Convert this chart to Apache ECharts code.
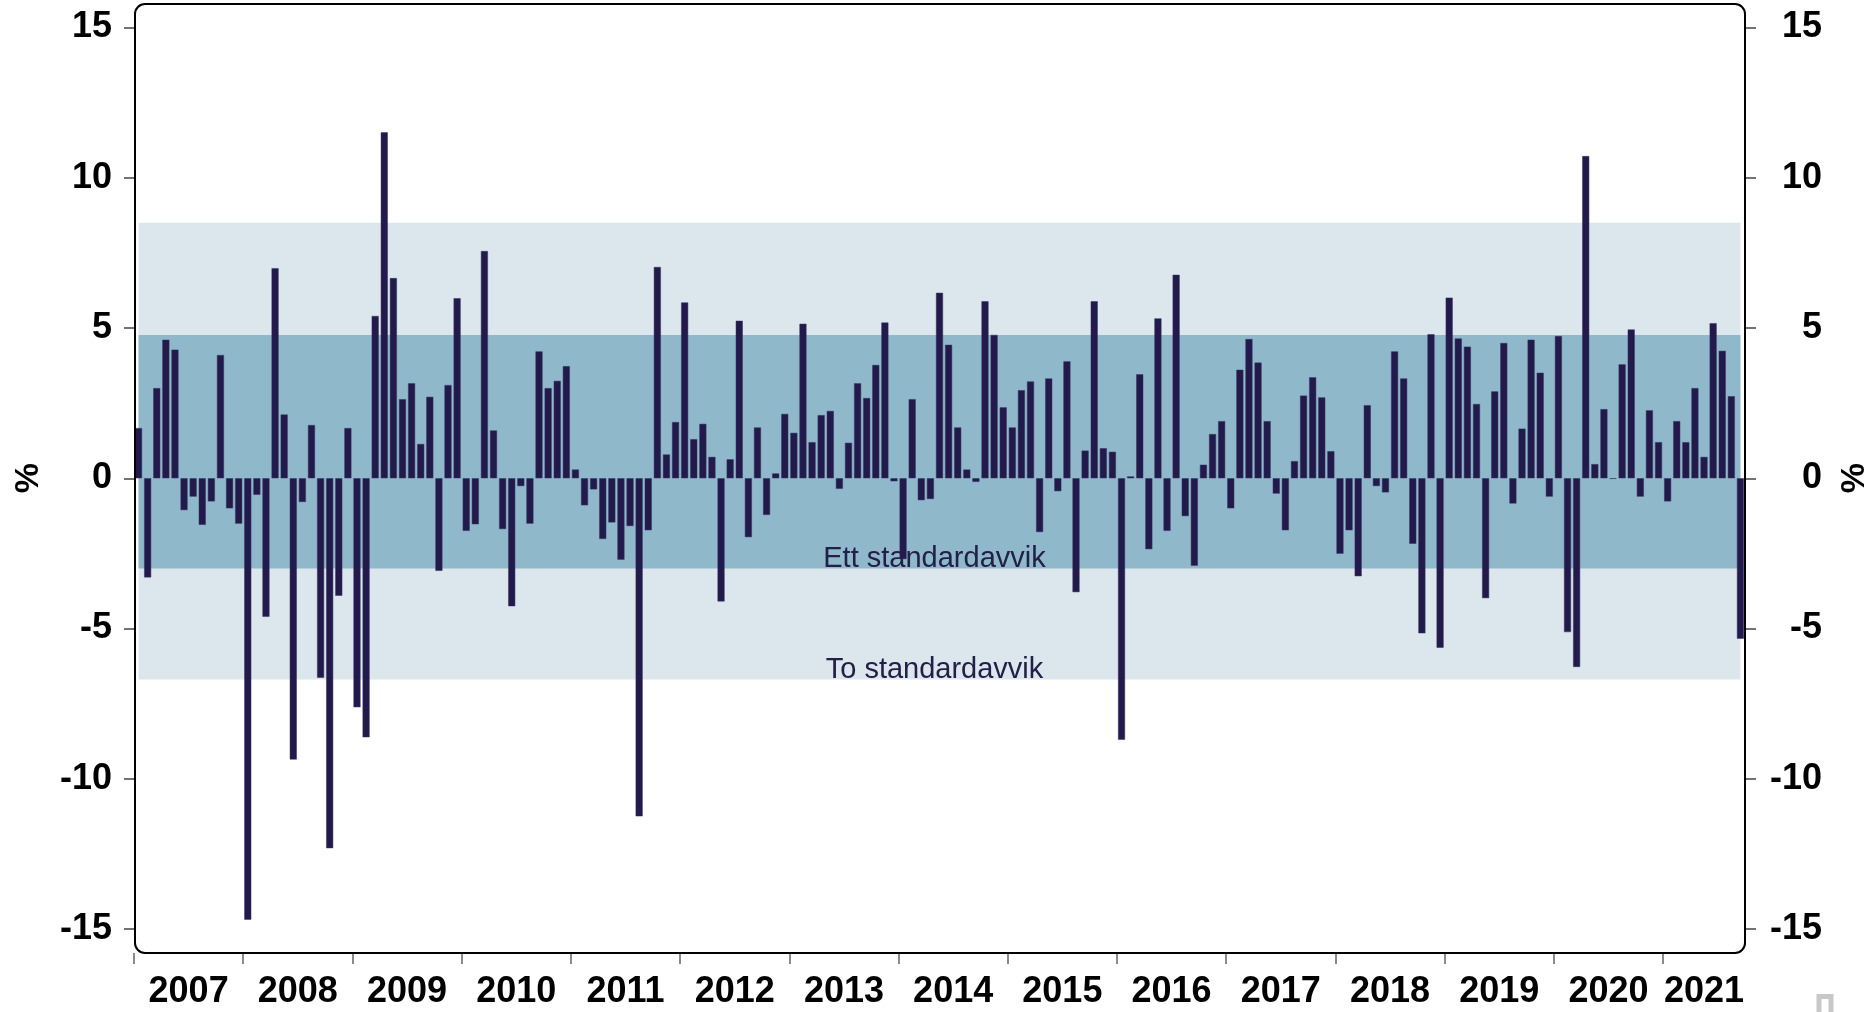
<!DOCTYPE html>
<html>
<head>
<meta charset="utf-8">
<script src="https://cdn.jsdelivr.net/npm/echarts@6/dist/echarts.min.js"></script>
<style>
  html, body { margin: 0; padding: 0; background: #fff; }
  #chart { width: 1875px; height: 1012px; }
</style>
</head>
<body>
<div id="chart"></div>
<script>
// monthly change, %, Jan 2007 - Sep 2021
const yearLabels = ['2007', '2008', '2009', '2010', '2011', '2012', '2013', '2014',
                    '2015', '2016', '2017', '2018', '2019', '2020', '2021'];
const y2007 = [1.67, -3.30, 3.00, 4.61, 4.28, -1.06, -0.61, -1.55, -0.77, 4.10, -1.00, -1.51];
const y2008 = [-14.69, -0.55, -4.61, 6.99, 2.12, -9.36, -0.79, 1.77, -6.64, -12.31, -3.91, 1.67];
const y2009 = [-7.62, -8.62, 5.40, 11.51, 6.66, 2.63, 3.16, 1.14, 2.71, -3.08, 3.10, 5.99];
const y2010 = [-1.75, -1.53, 7.56, 1.59, -1.69, -4.26, -0.26, -1.51, 4.22, 3.00, 3.24, 3.73];
const y2011 = [0.29, -0.90, -0.37, -2.02, -1.47, -2.71, -1.59, -11.25, -1.73, 7.03, 0.79, 1.87];
const y2012 = [5.85, 1.30, 1.81, 0.71, -4.10, 0.63, 5.24, -1.96, 1.69, -1.22, 0.16, 2.14];
const y2013 = [1.51, 5.14, 1.20, 2.10, 2.24, -0.35, 1.18, 3.16, 2.67, 3.77, 5.18, -0.10];
const y2014 = [-2.69, 2.63, -0.73, -0.69, 6.17, 4.44, 1.69, 0.29, -0.12, 5.89, 4.77, 2.36];
const y2015 = [1.69, 2.93, 3.22, -1.79, 3.32, -0.43, 3.89, -3.79, 0.92, 5.89, 1.00, 0.88];
const y2016 = [-8.70, 0.06, 3.46, -2.36, 5.32, -1.75, 6.77, -1.26, -2.91, 0.45, 1.47, 1.90];
const y2017 = [-1.00, 3.61, 4.63, 3.85, 1.90, -0.51, -1.73, 0.57, 2.75, 3.36, 2.69, 0.90];
const y2018 = [-2.51, -1.73, -3.26, 2.43, -0.26, -0.47, 4.22, 3.32, -2.18, -5.16, 4.79, -5.64];
const y2019 = [6.01, 4.65, 4.38, 2.47, -3.99, 2.89, 4.50, -0.84, 1.65, 4.61, 3.51, -0.61];
const y2020 = [4.73, -5.12, -6.28, 10.72, 0.47, 2.30, -0.02, 3.79, 4.95, -0.61, 2.26, 1.20];
const y2021 = [-0.77, 1.90, 1.20, 3.00, 0.71, 5.16, 4.24, 2.73, -5.34];

// bands: [low, high]
const oneSd = [-3.00, 4.77];
const twoSd = [-6.70, 8.50];
const bandNames = ['Ett standardavvik', 'To standardavvik'];

const values = [].concat(y2007, y2008, y2009, y2010, y2011, y2012, y2013, y2014,
                         y2015, y2016, y2017, y2018, y2019, y2020, y2021);
const n = values.length;

const months = [];
yearLabels.forEach(function (y) {
  for (let m = 1; m <= 12; m++) months.push(y + '-' + String(m).padStart(2, '0'));
});
months.length = n;

// ticks at each year start, label in the middle of the months shown for that year
const yearStarts = [];
const yearMids = [];
const labelAt = {};
yearLabels.forEach(function (y, i) {
  const s = i * 12, e = Math.min(s + 12, n);
  yearStarts.push(s);
  yearMids.push((s + e) / 2);
  labelAt[(s + e) / 2] = y;
});

const font = '"Liberation Sans", Arial, sans-serif';
const ink = '#211a4a';
const bandLight = '#dbe7ec';
const bandDark = '#8fb8ca';

const hiddenLine = { show: true, onZero: false, lineStyle: { color: 'rgba(0,0,0,0)' } };
const tickStyle = { color: '#444', width: 1.5 };
const numLabel = { fontSize: 36, fontWeight: 'bold', color: '#000', fontFamily: font };
const pctName = { fontSize: 34, fontWeight: 'bold', color: '#000', fontFamily: font };

const chart = echarts.init(document.getElementById('chart'));
chart.setOption({
  animation: false,
  grid: { left: 134, right: 130, top: 27.5, bottom: 83, outerBoundsMode: 'none' },
  xAxis: [
    {
      type: 'category', data: months, position: 'bottom',
      axisLine: { show: false, onZero: false },
      axisTick: { show: false },
      axisLabel: { show: false },
      splitLine: { show: false }
    },
    {
      type: 'value', min: 0, max: n, position: 'bottom', offset: 24,
      axisLine: hiddenLine,
      axisTick: { show: true, customValues: yearStarts, length: 11,
                  lineStyle: { color: '#666', width: 1.5 } },
      splitLine: { show: false },
      axisLabel: Object.assign({ margin: 21, customValues: yearMids,
                                 formatter: function (v) { return labelAt[v] || ''; } }, numLabel)
    }
  ],
  yAxis: [
    {
      type: 'value', position: 'left', min: -15, max: 15, interval: 5,
      axisLine: hiddenLine,
      axisTick: { show: true, length: 10, lineStyle: tickStyle },
      splitLine: { show: false },
      axisLabel: Object.assign({ margin: 22, padding: [4, 0, 0, 0] }, numLabel),
      name: '%', nameLocation: 'middle', nameRotate: 90, nameGap: 88, nameTextStyle: pctName
    },
    {
      type: 'value', position: 'right', min: -15, max: 15, interval: 5,
      axisLine: hiddenLine,
      axisTick: { show: true, length: 11, lineStyle: tickStyle },
      splitLine: { show: false },
      axisLabel: Object.assign({ margin: 77, align: 'right', padding: [4, 0, 0, 0] }, numLabel),
      name: '%', nameLocation: 'middle', nameRotate: 90, nameGap: 93, nameTextStyle: pctName
    }
  ],
  series: [
    {
      type: 'line', data: [], silent: true, z: 1,
      markArea: {
        silent: true,
        label: { show: true, position: 'insideBottom', distance: -5, offset: [-5, 0], fontSize: 29,
                 color: '#232047', fontFamily: font },
        data: [
          [{ name: bandNames[1], xAxis: months[0], yAxis: twoSd[1], itemStyle: { color: bandLight, opacity: 1 } },
           { xAxis: months[n - 1], yAxis: twoSd[0] }],
          [{ name: bandNames[0], xAxis: months[0], yAxis: oneSd[1], itemStyle: { color: bandDark, opacity: 1 } },
           { xAxis: months[n - 1], yAxis: oneSd[0] }]
        ]
      }
    },
    {
      type: 'bar', data: values, barWidth: 7, z: 3,
      itemStyle: { color: ink, borderColor: '#3a3366', borderWidth: 0.5 }
    }
  ],
  graphic: [
    { type: 'rect', z: 20, silent: true,
      shape: { x: 135, y: 4, width: 1610, height: 949, r: 10 },
      style: { fill: null, stroke: '#000', lineWidth: 2 } },
    { type: 'rect', z: 20, silent: true,
      shape: { x: 1819, y: 996.5, width: 12, height: 30 },
      style: { fill: null, stroke: '#c8c8c8', lineWidth: 5 } }
  ]
});
</script>
</body>
</html>
